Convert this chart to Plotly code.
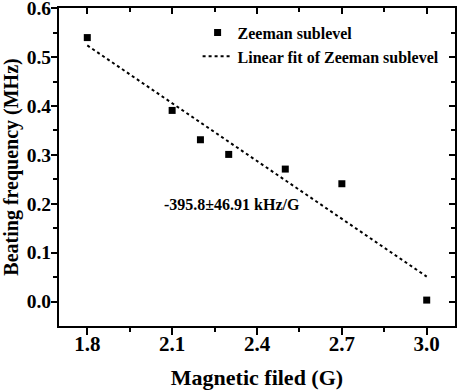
import plotly.graph_objects as go

field = [1.8, 2.1, 2.2, 2.3, 2.5, 2.7, 3.0]
freq = [0.54, 0.391, 0.331, 0.301, 0.271, 0.241, 0.003]
fit_x = [1.8, 3.0]
fit_y = [0.524, 0.051]
x_ticks = [1.8, 2.1, 2.4, 2.7, 3.0]
y_ticks = [0.0, 0.1, 0.2, 0.3, 0.4, 0.5, 0.6]

FONT = "Liberation Serif"

fig = go.Figure()
fig.add_trace(go.Scatter(x=field, y=freq, mode="markers", name="Zeeman sublevel",
                         marker=dict(symbol="square", size=7, color="black")))
fig.add_trace(go.Scatter(x=fit_x, y=fit_y, mode="lines", name="Linear fit of Zeeman sublevel",
                         line=dict(color="black", width=2, dash="dot")))
# invisible trace for mirrored axes
fig.add_trace(go.Scatter(x=[fit_x[0]], y=[fit_y[0]], xaxis="x2", yaxis="y2", mode="markers",
                         marker=dict(opacity=0), showlegend=False, hoverinfo="skip"))

axis_common = dict(showline=True, linecolor="black", linewidth=2, showgrid=False, zeroline=False,
                   tickcolor="black", tickwidth=2, automargin=False)

x_minor = [1.95, 2.25, 2.55, 2.85]
y_minor = [0.05, 0.15, 0.25, 0.35, 0.45, 0.55]

fig.update_layout(
    width=457, height=392,
    margin=dict(l=59, r=2, t=8, b=66, autoexpand=False),
    paper_bgcolor="white", plot_bgcolor="white",
    font=dict(family=FONT, color="black", weight="bold"),
    showlegend=True,
    legend=dict(x=0.35, y=0.976, xanchor="left", yanchor="top", bgcolor="rgba(0,0,0,0)",
                font=dict(family=FONT, size=16, weight="bold"), tracegroupgap=0),
    xaxis=dict(range=[1.7, 3.1], tickvals=x_ticks, ticktext=[f"{v:.1f}" for v in x_ticks],
               ticks="outside", ticklen=7, ticklabelstandoff=-9, ticklabeloverflow="allow",
               minor=dict(ticks="outside", ticklen=4, tickvals=x_minor, tickcolor="black", tickwidth=2),
               tickfont=dict(size=21, family=FONT, weight="bold"),
               title=dict(text="Magnetic filed (G)", font=dict(size=22, family=FONT, weight="bold"), standoff=14),
               **axis_common),
    yaxis=dict(range=[-0.05, 0.6005], tickvals=y_ticks, ticktext=[f"{v:.1f}" for v in y_ticks],
               ticks="outside", ticklen=6, ticklabelstandoff=-4, ticklabeloverflow="allow",
               minor=dict(ticks="outside", ticklen=4, tickvals=y_minor, tickcolor="black", tickwidth=2),
               tickfont=dict(size=19.5, family=FONT, weight="bold"),
               title=dict(text="Beating frequency (MHz)", font=dict(size=20, family=FONT, weight="bold"), standoff=6),
               **axis_common),
    xaxis2=dict(range=[1.7, 3.1], overlaying="x", side="top", tickvals=x_ticks, showticklabels=False,
                ticks="inside", ticklen=6, anchor="y2",
                minor=dict(ticks="inside", ticklen=4, tickvals=x_minor, tickcolor="black", tickwidth=2),
                **axis_common),
    yaxis2=dict(range=[-0.05, 0.6005], overlaying="y", side="right", tickvals=y_ticks, showticklabels=False,
                ticks="inside", ticklen=6, anchor="x2",
                minor=dict(ticks="inside", ticklen=4, tickvals=y_minor, tickcolor="black", tickwidth=2),
                **axis_common),
)

fig.add_annotation(x=2.065, y=0.198, xref="x", yref="y", text="-395.8±46.91 kHz/G", showarrow=False,
                   xanchor="left", font=dict(family=FONT, size=16, weight="bold", color="black"))

fig.write_html("out.html", config={"displayModeBar": False},
               post_script="document.body.style.margin='0';document.body.style.overflow='hidden';")
